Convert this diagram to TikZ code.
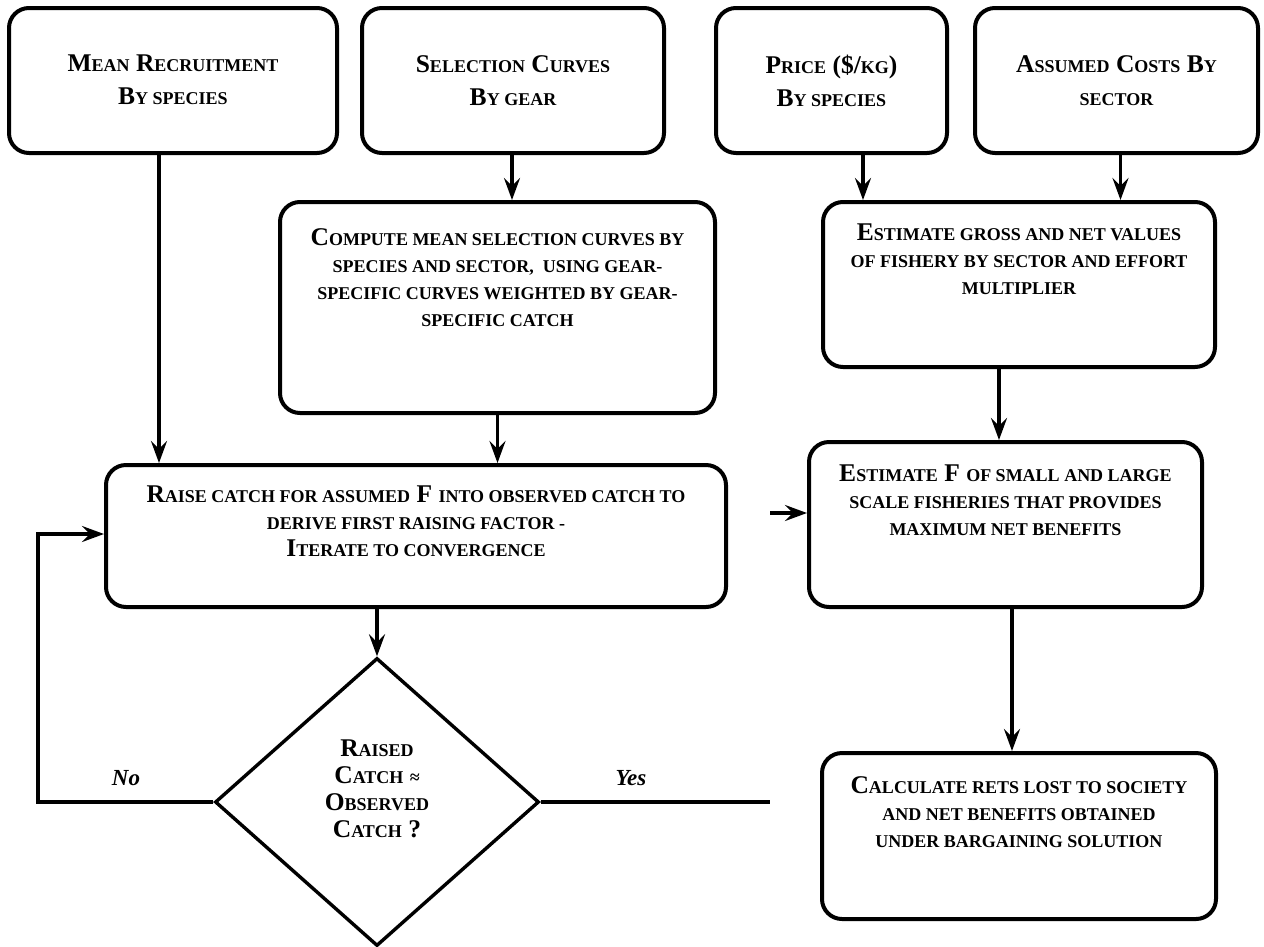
\documentclass[tikz,border=0pt]{standalone}
\usepackage{fontspec}
\setmainfont{Liberation Serif}
\usetikzlibrary{arrows.meta,shapes.geometric}
\newcommand\smc[1]{{\fontsize{18}{27}\selectfont\MakeUppercase{#1}}}
\begin{document}
\begin{tikzpicture}[x=1pt,y=-1pt,
  box/.style={draw, line width=4pt, rounded corners=20pt, inner sep=0pt},
  txt/.style={font=\fontsize{25.5}{27}\selectfont\bfseries, align=center, inner sep=0pt, anchor=north},
  lbl/.style={font=\fontsize{23}{23}\selectfont\bfseries\itshape, inner sep=0pt},
  arr/.style={line width=3.4pt, -{Stealth[length=22pt,width=16pt,inset=8pt]}},
  ln/.style={line width=3.4pt}]
\fill[white] (0,0) rectangle (1264,946);
\useasboundingbox (0,0) rectangle (1264,946);

% boxes
\node[box, minimum width=328pt, minimum height=145pt] (b1) at (173,80.5) {};
\node[box, minimum width=302pt, minimum height=145pt] (b2) at (513,80.5) {};
\node[box, minimum width=231pt, minimum height=145pt] (b3) at (831.5,80.5) {};
\node[box, minimum width=283pt, minimum height=145pt] (b4) at (1116.5,80.5) {};
\node[box, minimum width=435pt, minimum height=211pt] (comp) at (497.5,307.5) {};
\node[box, minimum width=392pt, minimum height=165pt] (gross) at (1019,284.5) {};
\node[box, minimum width=620pt, minimum height=142pt] (raise) at (416,536) {};
\node[box, minimum width=393pt, minimum height=165pt] (estf) at (1005.5,524.5) {};
\node[box, minimum width=394pt, minimum height=166pt] (calc) at (1019,836) {};
\node[draw, diamond, line width=3.4pt, minimum width=324pt, minimum height=288pt, inner sep=0pt] (dia) at (377,802) {};

% texts
\node[txt] (t1) at (173,55) {M\smc{ean} R\smc{ecruitment}\\[6pt] B\smc{y species}};
\node[txt] (t2) at (513,55) {S\smc{election} C\smc{urves}\\[6pt] B\smc{y gear}};
\node[txt] (t3) at (831.5,55) {P\smc{rice} (\$/\smc{kg})\\[6pt] B\smc{y species}};
\node[txt] (t4) at (1116.5,55) {A\smc{ssumed} C\smc{osts} B\smc{y}\\[6pt] \smc{sector}};
\node[txt] (tc) at (497.5,228) {C\smc{ompute mean selection curves by}\\ \smc{species and sector,\ \ using gear-}\\ \smc{specific curves weighted by gear-}\\ \smc{specific catch}};
\node[txt] (tg) at (1019,224) {E\smc{stimate gross and net values}\\ \smc{of fishery by sector and effort}\\ \smc{multiplier}};
\node[txt] (tr) at (416,486) {R\smc{aise catch for assumed} F \smc{into observed catch to}\\ \smc{derive first raising factor -}\\ I\smc{terate to convergence}};
\node[txt] (te) at (1005.5,465) {E\smc{stimate} F \smc{of small and large}\\ \smc{scale fisheries that provides}\\ \smc{maximum net benefits}};
\node[txt] (tk) at (1019,776) {C\smc{alculate rets lost to society}\\ \smc{and net benefits obtained}\\ \smc{under bargaining solution}};
\node[txt] (td) at (377,740) {R\smc{aised}\\ C\smc{atch} \smc{≈}\\ O\smc{bserved}\\ C\smc{atch} ?};

\node[lbl] (no) at (126,778) {No};
\node[lbl] (yes) at (631,778) {Yes};

% connectors
\draw[arr] ([xshift=-14pt]b1.south) -- ([xshift=-14pt]b1.south |- raise.north);
\draw[arr] ([xshift=-1pt]b2.south) -- ([xshift=-1pt]b2.south |- comp.north);
\draw[arr] ([xshift=31.5pt]b3.south) -- ([xshift=31.5pt]b3.south |- gross.north);
\draw[arr] ([xshift=4pt]b4.south) -- ([xshift=4pt]b4.south |- gross.north);
\draw[arr] (comp.south) -- (comp.south |- raise.north);
\draw[arr] ([xshift=-20pt]gross.south) -- ([xshift=-20pt]gross.south |- estf.north);
\draw[arr] ([xshift=6.5pt]estf.south) -- ([xshift=6.5pt]estf.south |- calc.north);
\draw[arr] (dia.north |- raise.south) -- (dia.north);
\coordinate (loopc) at (38,802);
\draw[arr, line join=miter] (dia.west) -- (loopc) |- ([yshift=2pt]raise.west);
\coordinate (yesend) at (770,802);
\draw[ln] (dia.east) -- (yesend);
\coordinate (fin) at (770,513);
\draw[arr] (fin) -- (fin -| estf.west);
\end{tikzpicture}
\end{document}
